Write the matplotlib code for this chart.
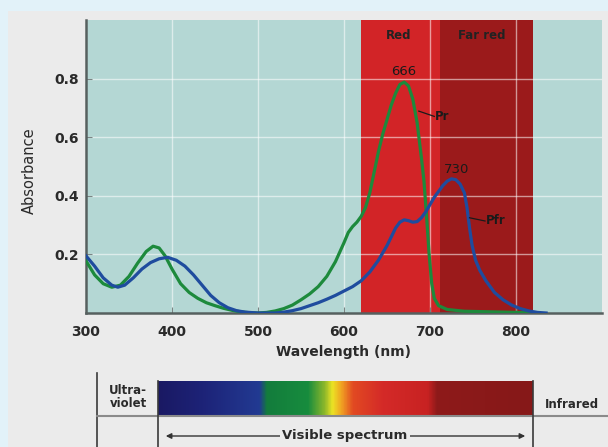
import matplotlib
matplotlib.use("Agg")
import matplotlib.pyplot as plt
import numpy as np
from matplotlib.patches import Rectangle, FancyArrowPatch
from matplotlib.colors import LinearSegmentedColormap

# ---------------- data ----------------
pr_wl = [300, 310, 320, 330, 340, 350, 360, 370, 378, 385, 392, 400, 410, 420, 430, 440,
         450, 460, 470, 480, 490, 500, 510, 520, 530, 540, 550, 560, 570, 580, 590, 600,
         605, 610, 615, 620, 625, 630, 635, 640, 645, 650, 655, 660, 665, 670, 675, 680,
         685, 690, 693, 696, 699, 702, 705, 710, 720, 740, 770, 800, 820]
pr_abs = [0.178, 0.13, 0.10, 0.088, 0.095, 0.125, 0.17, 0.21, 0.228, 0.222, 0.195, 0.15,
          0.10, 0.07, 0.05, 0.035, 0.025, 0.016, 0.009, 0.004, 0.001, 0.0, 0.002, 0.007,
          0.015, 0.027, 0.045, 0.065, 0.09, 0.125, 0.175, 0.24, 0.275, 0.295, 0.31, 0.33,
          0.36, 0.41, 0.48, 0.55, 0.61, 0.66, 0.71, 0.75, 0.78, 0.788, 0.775, 0.73, 0.65,
          0.53, 0.45, 0.33, 0.2, 0.1, 0.05, 0.025, 0.012, 0.006, 0.004, 0.002, 0.0]

pfr_wl = [300, 310, 320, 330, 337, 345, 355, 365, 375, 385, 395, 405, 415, 425, 435, 445,
          455, 465, 475, 485, 500, 520, 530, 540, 550, 560, 570, 580, 590, 600, 610, 620,
          630, 640, 650, 655, 660, 665, 670, 675, 680, 685, 690, 695, 700, 705, 710, 715,
          720, 725, 730, 735, 740, 743, 746, 749, 753, 758, 765, 775, 785, 795, 805, 815,
          825, 835]
pfr_abs = [0.195, 0.16, 0.12, 0.095, 0.088, 0.095, 0.12, 0.15, 0.172, 0.185, 0.19, 0.18,
           0.16, 0.13, 0.095, 0.06, 0.035, 0.018, 0.008, 0.003, 0.0, 0.0, 0.003, 0.008,
           0.015, 0.025, 0.035, 0.047, 0.06, 0.075, 0.09, 0.11, 0.14, 0.18, 0.23, 0.26,
           0.29, 0.31, 0.318, 0.315, 0.31, 0.312, 0.325, 0.345, 0.37, 0.395, 0.415, 0.435,
           0.45, 0.458, 0.455, 0.44, 0.41, 0.36, 0.29, 0.23, 0.18, 0.145, 0.11, 0.07,
           0.045, 0.027, 0.015, 0.007, 0.002, 0.0]

x_ticks = [300, 400, 500, 600, 700, 800]
y_ticks = [0.2, 0.4, 0.6, 0.8]
y_tick_labels = ["0.2", "0.4", "0.6", "0.8"]
red_band = (620, 712)
far_red_band = (712, 820)
peak_labels = [("666", 669, 0.824), ("730", 731, 0.49)]

spectrum_pos = [0.0, 0.12, 0.27, 0.29, 0.40, 0.445, 0.465, 0.49, 0.52, 0.60, 0.72, 0.745, 1.0]
spectrum_col = ["#1a1963", "#1d2378", "#223a92", "#137c3c", "#178c3e", "#8fb82a", "#ece424",
                "#f0a022", "#e24a22", "#d42a28", "#c82222", "#8e1a1a", "#861818"]

# ---------------- figure ----------------
fig = plt.figure(figsize=(6.08, 4.47), dpi=100)
fig.patch.set_facecolor("#e2f2f9")
W, H = 608, 447


def fx(px):
    return px / W


def fy(py):
    return 1 - py / H


bg = Rectangle((8 / W, 0), 1 - 8 / W, (H - 11) / H, transform=fig.transFigure,
               facecolor="#ebebeb", edgecolor="none", zorder=-10)
fig.add_artist(bg)

ax = fig.add_axes([fx(86), fy(313), fx(602) - fx(86), fy(20) - fy(313)])
ax.set_zorder(1)
ax.set_facecolor("#b4d7d4")
ax.set_xlim(300, 900)
ax.set_ylim(0, 1.0)

ax.axvspan(*red_band, color="#d22427", zorder=0.2, lw=0)
ax.axvspan(*far_red_band, color="#9b1a1b", zorder=0.2, lw=0)

ax.set_axisbelow(True)
ax.grid(True, color="white", alpha=0.55, lw=1.0)

ax.plot(pr_wl, pr_abs, color="#1d8a3c", lw=2.3, zorder=3)
ax.plot(pfr_wl, pfr_abs, color="#1f4c9e", lw=2.3, zorder=3)

ax.set_xticks(x_ticks)
ax.set_yticks(y_ticks)
ax.set_yticklabels(y_tick_labels)
ax.tick_params(direction="in", length=4, color="#7a8483", labelsize=10,
               labelcolor="#2a2a2a")
for lab in ax.get_xticklabels() + ax.get_yticklabels():
    lab.set_fontweight("bold")
ax.tick_params(axis="x", pad=9)
ax.tick_params(axis="y", pad=5)

for s in ["top", "right"]:
    ax.spines[s].set_visible(False)
for s in ["left", "bottom"]:
    ax.spines[s].set_color("#56605f")
    ax.spines[s].set_linewidth(1.8)

ax.set_xlabel("Wavelength (nm)", fontsize=10, fontweight="bold", color="#2a2a2a",
              labelpad=4)
fig.text(fx(29), fy(171), "Absorbance", rotation=90, ha="center", va="center",
         fontsize=10.5, color="#2a2a2a", family=["Liberation Sans Narrow", "DejaVu Sans"])

ax.text(664, 0.946, "Red", ha="center", va="center", fontsize=8.5, fontweight="bold",
        color="#222222")
ax.text(760, 0.946, "Far red", ha="center", va="center", fontsize=8.5, fontweight="bold",
        color="#222222")
for txt, xx, yy in peak_labels:
    ax.text(xx, yy, txt, ha="center", va="center", fontsize=9.5, color="#1a1a1a")

ax.plot([687, 705], [0.689, 0.671], color="#1a1a1a", lw=0.9, zorder=4)
ax.text(706, 0.671, "Pr", ha="left", va="center", fontsize=8.5, fontweight="bold",
        color="#1a1a1a")
ax.plot([746, 764], [0.325, 0.314], color="#1a1a1a", lw=0.9, zorder=4)
ax.text(765, 0.314, "Pfr", ha="left", va="center", fontsize=8.5, fontweight="bold",
        color="#1a1a1a")

# ---------------- spectrum bar ----------------
sax = fig.add_axes([fx(158), fy(415), fx(533) - fx(158), fy(381) - fy(415)])
sax.set_zorder(1)
cmap = LinearSegmentedColormap.from_list("spec", list(zip(spectrum_pos, spectrum_col)))
grad = np.linspace(0, 1, 512).reshape(1, -1)
sax.imshow(grad, aspect="auto", cmap=cmap, extent=[0, 1, 0, 1])
sax.set_axis_off()

lc = "#3a3a3a"
fig.add_artist(plt.Line2D([fx(97), fx(97)], [fy(373), 0], color=lc, lw=1.2,
                          transform=fig.transFigure))
fig.add_artist(plt.Line2D([fx(97), 1], [fy(416), fy(416)], color="#8a8a8a", lw=1.5,
                          transform=fig.transFigure))
fig.add_artist(plt.Line2D([fx(158), fx(158)], [fy(381), 0], color=lc, lw=1.2,
                          transform=fig.transFigure))
fig.add_artist(plt.Line2D([fx(533), fx(533)], [fy(381), 0], color=lc, lw=1.2,
                          transform=fig.transFigure))

fig.text(fx(128), fy(397), "Ultra-\nviolet", ha="center", va="center", fontsize=8.5,
         fontweight="bold", color="#2a2a2a", linespacing=1.0)
fig.text(fx(572), fy(405), "Infrared", ha="center", va="center", fontsize=8.5,
         fontweight="bold", color="#2a2a2a")

fig.add_artist(FancyArrowPatch((fx(163), fy(436)), (fx(528), fy(436)),
                               transform=fig.transFigure, arrowstyle="<|-|>",
                               mutation_scale=8, color="#333333", lw=1.0))
fig.text(fx(345), fy(436), "Visible spectrum", ha="center", va="center", fontsize=9.5,
         fontweight="bold", color="#2a2a2a",
         bbox=dict(facecolor="#ebebeb", edgecolor="none", pad=1.5))

fig.savefig("out.png", dpi=100, facecolor=fig.get_facecolor())
